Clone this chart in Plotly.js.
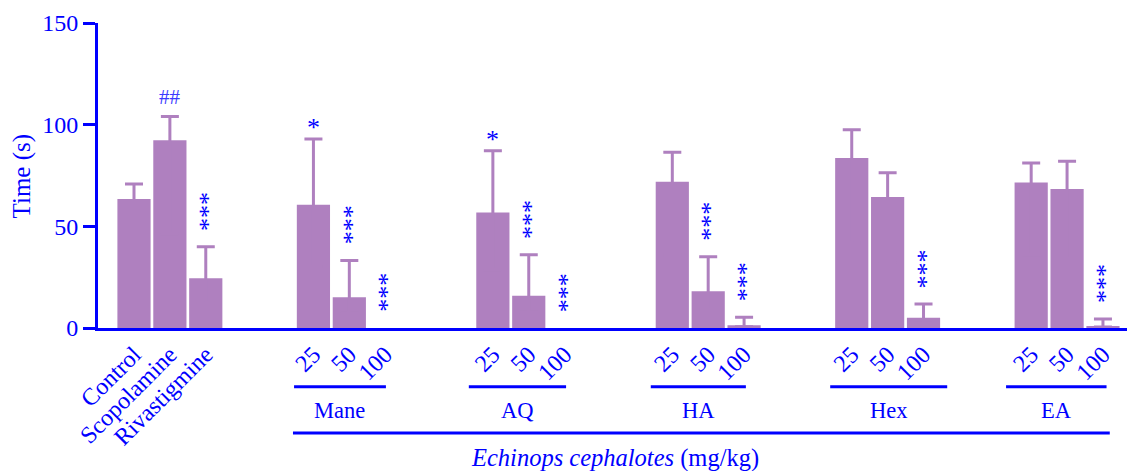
<!DOCTYPE html>
<html>
<head>
<meta charset="utf-8">
<script src="https://cdn.plot.ly/plotly-3.0.1.min.js"></script>
<style>html,body{margin:0;padding:0;background:#fff;}#chart{width:1127px;height:471px;}</style>
</head>
<body>
<div id="chart"></div>
<script>
// ---- data ----
const controlLabels = ['Control', 'Scopolamine', 'Rivastigmine'];
const controlMeans = [63.5, 92.3, 24.5];
const controlSEM = [7.3, 11.7, 15.4];
const controlSig = ['', '##', '***'];

const extracts = ['Mane', 'AQ', 'HA', 'Hex', 'EA'];
const doses = ['25', '50', '100'];

const maneMeans = [60.6, 15.1, 0];
const maneSEM = [32.4, 18.1, NaN];
const maneSig = ['*', '***', '***'];

const aqMeans = [56.8, 15.9, 0];
const aqSEM = [30.4, 20.1, NaN];
const aqSig = ['*', '***', '***'];

const haMeans = [71.9, 18.1, 1.3];
const haSEM = [14.5, 16.9, 4.0];
const haSig = ['', '***', '***'];

const hexMeans = [83.6, 64.4, 5.1];
const hexSEM = [13.9, 12.0, 6.7];
const hexSig = ['', '', '***'];

const eaMeans = [71.6, 68.3, 1.0];
const eaSEM = [9.5, 13.7, 3.4];
const eaSig = ['', '', '***'];

const xTitleItalic = 'Echinops cephalotes';
const xTitleUnit = '(mg/kg)';
const yTitle = 'Time (s)';

// ---- build ----
const BLUE = '#0000ff';
const PURPLE = '#af80bf';
const FONT = 'Liberation Serif, Times New Roman, serif';

const groupMeans = [controlMeans, maneMeans, aqMeans, haMeans, hexMeans, eaMeans];
const groupSEM = [controlSEM, maneSEM, aqSEM, haSEM, hexSEM, eaSEM];
const groupSig = [controlSig, maneSig, aqSig, haSig, hexSig, eaSig];
const groupTicks = [controlLabels, doses, doses, doses, doses, doses];

const xs = [], ys = [], es = [], ticktext = [], sigs = [];
groupMeans.forEach((arr, g) => {
  arr.forEach((v, j) => {
    xs.push(g * 5 + j);
    ys.push(v);
    es.push(groupSEM[g][j]);
    ticktext.push(groupTicks[g][j]);
    sigs.push(groupSig[g][j]);
  });
});

// only the upper error bar is shown; the lower end is tucked inside the bar
const lowerHidden = es.map((e, i) => (isNaN(e) ? NaN : ys[i] * 0.5));

const trace = {
  type: 'bar',
  x: xs,
  y: ys,
  width: 0.925,
  marker: {color: PURPLE, line: {width: 0}},
  error_y: {type: 'data', symmetric: false, array: es, arrayminus: lowerHidden,
            color: PURPLE, thickness: 3, width: 9},
  hoverinfo: 'none'
};

const annotations = [];
xs.forEach((x, i) => {
  const s = sigs[i];
  if (!s) return;
  const top = ys[i] + (es[i] || 0);
  if (s === '***') {
    annotations.push({x: x, y: top, xref: 'x', yref: 'y', text: '***', showarrow: false,
      textangle: 90, yshift: 35.5, xshift: -5.5, xanchor: 'center', yanchor: 'middle',
      font: {family: FONT, size: 26, color: BLUE}});
  } else if (s === '*') {
    annotations.push({x: x, y: top, xref: 'x', yref: 'y', text: '*', showarrow: false,
      yshift: 11, xanchor: 'center', yanchor: 'middle',
      font: {family: FONT, size: 26, color: BLUE}});
  } else {
    annotations.push({x: x, y: top, xref: 'x', yref: 'y', text: s, showarrow: false,
      yshift: 20, xanchor: 'center', yanchor: 'middle',
      font: {family: FONT, size: 21, color: '#3a3aff'}});
  }
});

// group lines and labels below the axis
const groupLineSpan = [[-0.54, 0.02], [-0.67, 0.04], [-0.6, 0.05], [-0.6, 0.66], [-0.7, 0.1]];
const shapes = [];
extracts.forEach((name, k) => {
  const first = (k + 1) * 5, last = first + 2;
  const x0 = first + groupLineSpan[k][0], x1 = last + groupLineSpan[k][1];
  shapes.push({type: 'line', xref: 'x', yref: 'paper', x0: x0, x1: x1, y0: -0.1925, y1: -0.1925,
    line: {color: BLUE, width: 3}});
  annotations.push({x: (x0 + x1) / 2, y: -0.269, xref: 'x', yref: 'paper', text: name, showarrow: false,
    xanchor: 'center', yanchor: 'middle', font: {family: FONT, size: 22.5, color: BLUE}});
});
shapes.push({type: 'line', xref: 'x', yref: 'paper', x0: 4.43, x1: 27.19, y0: -0.344, y1: -0.344,
  line: {color: BLUE, width: 3}});
annotations.push({x: 13.4, y: -0.426, xref: 'x', yref: 'paper',
  text: '<i>' + xTitleItalic + '</i> ' + xTitleUnit, showarrow: false,
  xanchor: 'center', yanchor: 'middle', font: {family: FONT, size: 24.5, color: BLUE}});
annotations.push({x: -0.0739, y: 0.5, xref: 'paper', yref: 'paper', text: yTitle, showarrow: false,
  textangle: -90, xanchor: 'center', yanchor: 'middle', font: {family: FONT, size: 25, color: BLUE}});

const layout = {
  width: 1127, height: 471,
  margin: {l: 98, r: 0, t: 23, b: 143, pad: 0},
  paper_bgcolor: '#fff', plot_bgcolor: '#fff',
  showlegend: false,
  xaxis: {range: [-1.003, 27.67], tickvals: xs, ticktext: ticktext, tickangle: -45,
    showline: true, linecolor: BLUE, linewidth: 3, ticks: '', showgrid: false, zeroline: false,
    tickfont: {family: FONT, size: 24, color: BLUE}, fixedrange: true},
  yaxis: {range: [0, 150], tickvals: [0, 50, 100, 150], ticks: 'outside', ticklen: 12, tickwidth: 3,
    tickcolor: BLUE, showline: true, linecolor: BLUE, linewidth: 3, showgrid: false, zeroline: false,
    tickfont: {family: FONT, size: 24, color: BLUE}, fixedrange: true},
  shapes: shapes,
  annotations: annotations
};

Plotly.newPlot('chart', [trace], layout, {displayModeBar: false, staticPlot: true});
</script>
</body>
</html>
